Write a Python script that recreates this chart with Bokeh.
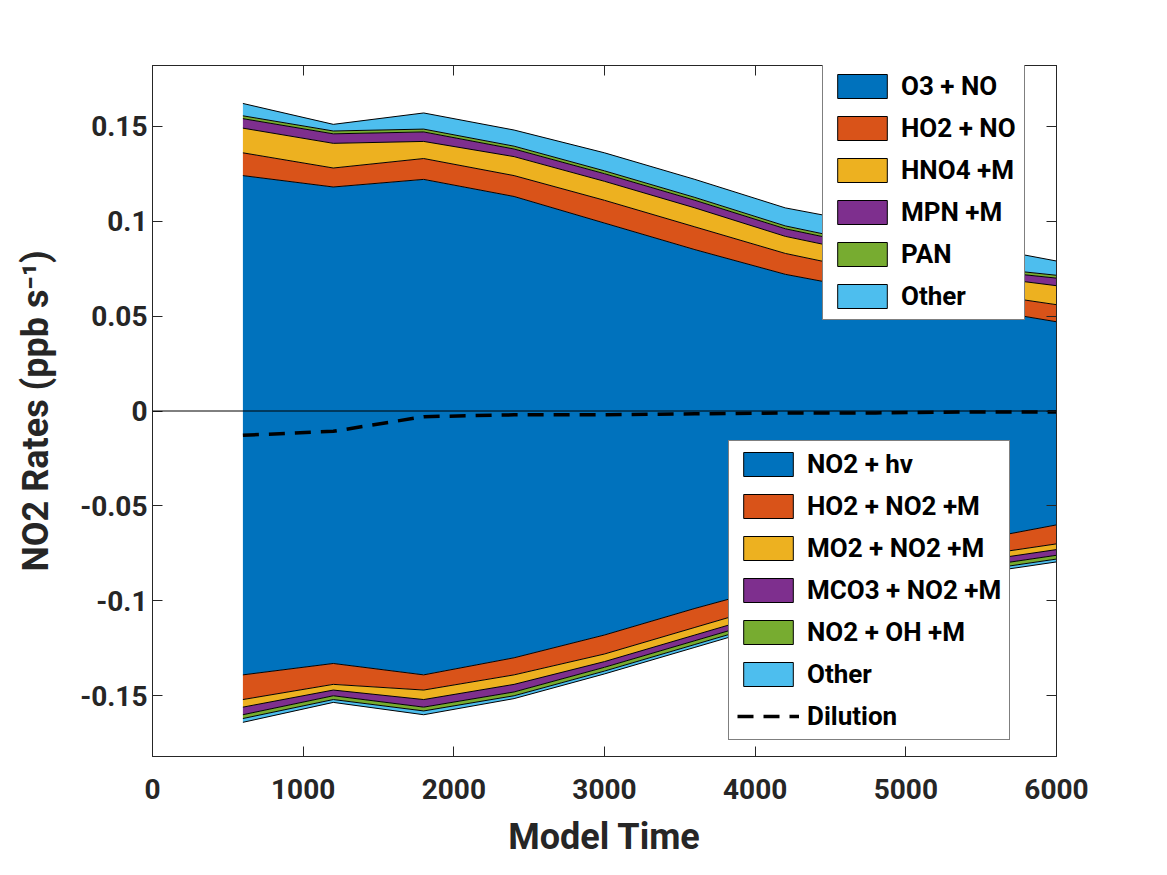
from bokeh.plotting import figure
from bokeh.models import (ColumnDataSource, Legend, LegendItem, LinearAxis,
                          FixedTicker, Range1d, Span)
from bokeh.embed import file_html
from bokeh.resources import INLINE

time = [600, 1200, 1800, 2400, 3000, 3600, 4200, 4800, 5400, 6000]

# production terms (ppb/s)
o3_no = [0.124, 0.118, 0.122, 0.113, 0.099, 0.085, 0.072, 0.063, 0.055, 0.047]
ho2_no = [0.012, 0.010, 0.011, 0.011, 0.012, 0.012, 0.011, 0.010, 0.008, 0.009]
hno4_m = [0.013, 0.013, 0.009, 0.010, 0.010, 0.010, 0.009, 0.009, 0.009, 0.010]
mpn_m = [0.005, 0.005, 0.005, 0.004, 0.004, 0.004, 0.004, 0.004, 0.003, 0.004]
pan = [0.0015, 0.0015, 0.0015, 0.0015, 0.0015, 0.0015, 0.0015, 0.0015, 0.0015, 0.0015]
other_p = [0.0065, 0.0035, 0.0085, 0.0085, 0.0095, 0.0095, 0.0095, 0.0105, 0.0115, 0.0075]

# loss terms (ppb/s)
no2_hv = [-0.139, -0.133, -0.139, -0.130, -0.118, -0.104, -0.091, -0.080, -0.069, -0.060]
ho2_no2 = [-0.013, -0.011, -0.008, -0.009, -0.010, -0.010, -0.009, -0.008, -0.008, -0.010]
mo2_no2 = [-0.004, -0.003, -0.005, -0.005, -0.004, -0.004, -0.004, -0.003, -0.003, -0.003]
mco3_no2 = [-0.004, -0.003, -0.004, -0.004, -0.003, -0.003, -0.003, -0.003, -0.003, -0.003]
no2_oh = [-0.002, -0.002, -0.002, -0.002, -0.002, -0.002, -0.002, -0.002, -0.002, -0.002]
other_l = [-0.002, -0.0015, -0.002, -0.0015, -0.0015, -0.0015, -0.0015, -0.0015, -0.0015, -0.0015]

dilution = [-0.0128, -0.0107, -0.003, -0.002, -0.002, -0.0015, -0.001, -0.001, -0.0005, -0.0005]

colors = ["#0072BD", "#D95319", "#EDB120", "#7E2F8E", "#77AC30", "#4DBEEE"]
pos_names = ["O3 + NO", "HO2 + NO", "HNO4 +M", "MPN +M", "PAN", "Other"]
neg_names = ["NO2 + hv", "HO2 + NO2 +M", "MO2 + NO2 +M", "MCO3 + NO2 +M", "NO2 + OH +M", "Other"]
pos_series = [o3_no, ho2_no, hno4_m, mpn_m, pan, other_p]
neg_series = [no2_hv, ho2_no2, mo2_no2, mco3_no2, no2_oh, other_l]

FONT = "Roboto"

p = figure(width=1150, height=860, output_backend="svg", toolbar_location=None,
           x_range=Range1d(0, 6000), y_range=Range1d(-0.182, 0.182),
           min_border_left=152, min_border_right=94, min_border_top=65,
           min_border_bottom=82)
p.xgrid.visible = False
p.ygrid.visible = False
p.outline_line_color = "#262626"
p.outline_line_width = 1


def stack(series):
    bottoms, tops = [], []
    base = [0.0] * len(time)
    for s in series:
        top = [b + v for b, v in zip(base, s)]
        bottoms.append(base)
        tops.append(top)
        base = top
    return bottoms, tops


for series in (pos_series, neg_series):
    bottoms, tops = stack(series)
    for b, t, c in zip(bottoms, tops, colors):
        p.varea(x=time, y1=b, y2=t, fill_color=c)
    for t in tops:
        p.line(time, t, line_color="black", line_width=1)

p.add_layout(Span(location=0, dimension="width", line_color="black", line_width=1))
dil = p.line(time, dilution, line_color="black", line_width=3.5, line_dash="16 10")

# off-range quad, used only as legend swatch
dummy = ColumnDataSource(dict(l=[-900], r=[-800], b=[0], t=[0.01]))


def legend_items(names):
    items = []
    for n, c in zip(names, colors):
        r = p.quad(left="l", right="r", bottom="b", top="t", source=dummy,
                   fill_color=c, line_color="black", line_width=1)
        items.append(LegendItem(label=n, renderers=[r]))
    return items


def style(leg):
    leg.label_text_font = FONT
    leg.label_text_font_style = "bold"
    leg.label_text_font_size = "26px"
    leg.label_text_color = "black"
    leg.glyph_width = 62
    leg.glyph_height = 30
    leg.spacing = 12
    leg.padding = 8
    leg.margin = 0
    leg.label_standoff = 8
    leg.border_line_color = "black"
    leg.border_line_width = 1
    leg.background_fill_alpha = 1


leg1 = Legend(items=legend_items(pos_names), location=(670, 436))
items2 = legend_items(neg_names)
items2.append(LegendItem(label="Dilution", renderers=[dil]))
leg2 = Legend(items=items2, location=(576, 16))
style(leg1)
style(leg2)
p.add_layout(leg1)
p.add_layout(leg2)

p.xaxis.ticker = FixedTicker(ticks=[0, 1000, 2000, 3000, 4000, 5000, 6000])
yt = [-0.15, -0.1, -0.05, 0, 0.05, 0.1, 0.15]
p.yaxis.ticker = FixedTicker(ticks=yt)
p.yaxis.major_label_overrides = {v: ("%g" % v) for v in yt}
p.xaxis.axis_label = "Model Time"
p.yaxis.axis_label = "NO2 Rates (ppb s\u207b\u00b9)"

for ax in (p.xaxis[0], p.yaxis[0]):
    ax.major_label_text_font = FONT
    ax.major_label_text_font_style = "bold"
    ax.major_label_text_font_size = "28px"
    ax.major_label_text_color = "#262626"
    ax.axis_label_text_font = FONT
    ax.axis_label_text_font_style = "bold"
    ax.axis_label_text_font_size = "36px"
    ax.axis_label_text_color = "#262626"
    ax.major_tick_in = 10
    ax.major_tick_out = 0
    ax.minor_tick_line_color = None
    ax.axis_line_color = "#262626"
    ax.major_tick_line_color = "#262626"
p.yaxis.axis_label_standoff = 20
p.xaxis.major_label_standoff = 22
p.xaxis.axis_label_standoff = 14

for side, tk in (("right", p.yaxis.ticker), ("above", p.xaxis.ticker)):
    a = LinearAxis(ticker=tk, major_label_text_font_size="0px",
                   major_tick_in=10, major_tick_out=0, minor_tick_line_color=None,
                   axis_line_color="#262626", major_tick_line_color="#262626")
    p.add_layout(a, side)

open("out.html", "w").write(file_html(p, INLINE))
